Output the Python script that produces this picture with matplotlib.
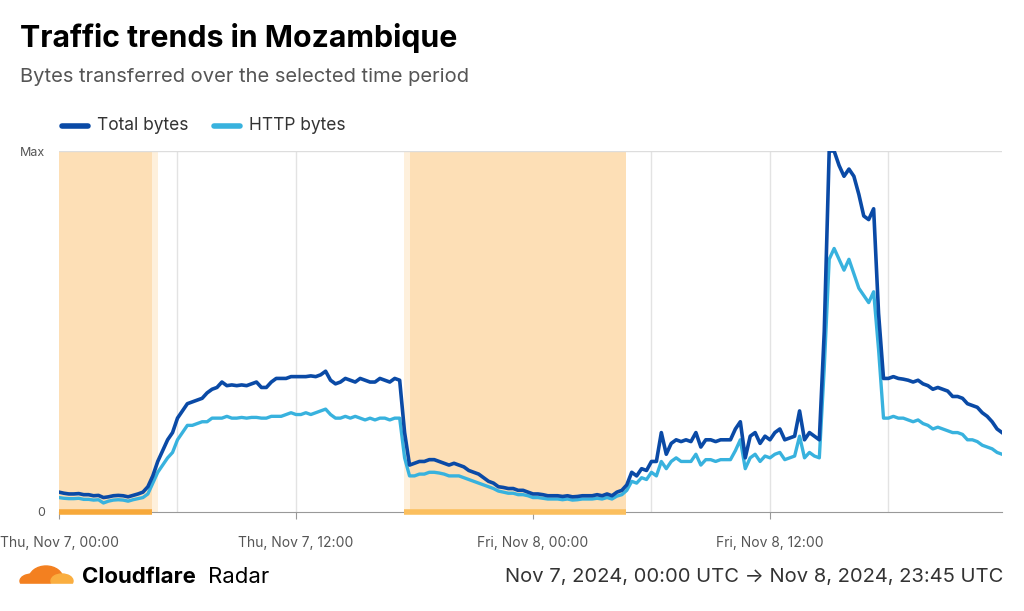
import matplotlib
matplotlib.use("Agg")
import matplotlib.pyplot as plt
import numpy as np
from matplotlib.patches import Ellipse
import datetime as dt
import matplotlib.dates as mdates

total = [.055,.052,.05,.05,.051,.048,.048,.045,.046,.04,.042,.045,.046,.045,.042,.046,.05,.055,.07,.1,
 .14,.17,.2,.22,.26,.28,.3,.305,.31,.315,.33,.34,.345,.36,.35,.352,.35,.352,.35,.355,
 .36,.345,.345,.36,.37,.37,.37,.375,.375,.375,.375,.377,.375,.38,.39,.365,.355,.36,.37,.365,
 .36,.37,.365,.36,.36,.37,.365,.36,.37,.365,.22,.13,.135,.14,.14,.145,.145,.14,.135,.13,
 .135,.13,.125,.115,.11,.105,.095,.085,.08,.07,.068,.065,.065,.06,.06,.055,.05,.05,.048,.045,
 .045,.045,.043,.045,.042,.043,.045,.045,.045,.048,.045,.05,.045,.055,.06,.075,.11,.1,.12,.115,
 .14,.14,.22,.16,.19,.2,.195,.2,.195,.22,.18,.2,.2,.195,.2,.2,.2,.23,.25,.15,
 .21,.22,.19,.21,.2,.22,.23,.2,.205,.21,.28,.2,.22,.21,.2,.5,1.0,1.0,.96,.93,
 .95,.93,.88,.82,.81,.84,.55,.37,.37,.375,.37,.368,.365,.36,.365,.355,.35,.34,.345,.34,
 .335,.32,.32,.315,.3,.295,.29,.275,.265,.25,.23,.22]
http = [.04,.038,.037,.037,.038,.035,.035,.033,.034,.025,.03,.033,.034,.033,.03,.034,.037,.04,.05,.08,
 .11,.13,.15,.165,.2,.22,.24,.24,.245,.25,.25,.26,.26,.26,.265,.26,.26,.262,.26,.262,
 .262,.26,.26,.265,.265,.265,.27,.275,.27,.27,.275,.27,.275,.28,.285,.27,.26,.26,.265,.26,
 .265,.26,.255,.26,.255,.26,.26,.255,.26,.26,.15,.1,.1,.105,.105,.11,.11,.108,.105,.1,
 .1,.1,.095,.09,.085,.08,.075,.07,.065,.058,.055,.052,.052,.048,.048,.045,.04,.04,.038,.036,
 .036,.036,.034,.036,.033,.034,.036,.036,.036,.038,.036,.04,.036,.044,.048,.06,.085,.08,.095,.09,
 .11,.1,.14,.12,.14,.15,.14,.14,.14,.16,.13,.145,.145,.14,.145,.145,.145,.17,.2,.12,
 .15,.16,.14,.155,.15,.16,.165,.145,.15,.155,.21,.15,.165,.155,.15,.4,.7,.73,.7,.67,
 .7,.66,.62,.6,.58,.61,.45,.26,.26,.265,.26,.26,.255,.25,.255,.245,.24,.23,.235,.23,
 .225,.22,.22,.215,.2,.2,.195,.185,.18,.175,.165,.16]

start = dt.datetime(2024, 11, 7)
times = [start + dt.timedelta(minutes=15*i) for i in range(len(total))]
tick_times = [start + dt.timedelta(hours=12*k) for k in range(4)]
tick_labels = ["Thu, Nov 7, 00:00", "Thu, Nov 7, 12:00", "Fri, Nov 8, 00:00", "Fri, Nov 8, 12:00"]
H = lambda h: mdates.date2num(start + dt.timedelta(hours=h))
night = [(H(0), H(4.7), H(5.0)), (H(17.45), H(17.75), H(28.7))]

fig = plt.figure(figsize=(10.24, 6.11), dpi=100)
ax = fig.add_axes([59/1024, 99/611, 943/1024, 361/611])
ax.set_xlim(mdates.date2num(times[0]), mdates.date2num(times[-1])); ax.set_ylim(0, 1)

for k in range(1, 8):
    ax.axvline(H(6*k), color="#e3e3e3", lw=1, zorder=0)
ax.axhline(1, color="#dddddd", lw=1)
shade = "#fddfb6"; light = "#fef0dc"
a, b, c = night[0]
ax.axvspan(a, b, color=shade, lw=0, zorder=0.5)
ax.axvspan(b, c, color=light, lw=0, zorder=0.5)
ax.plot([a, b], [0, 0], color="#f7a93b", lw=4, solid_capstyle="butt", clip_on=False, zorder=5)
a, b, c = night[1]
ax.axvspan(a, b, color=light, lw=0, zorder=0.5)
ax.axvspan(b, c, color=shade, lw=0, zorder=0.5)
ax.plot([a, c], [0, 0], color="#fbbf5e", lw=4, solid_capstyle="butt", clip_on=False, zorder=5)

ax.plot(times, http, color="#38b2de", lw=2.4, zorder=3)
ax.plot(times, total, color="#0a4aa6", lw=2.6, zorder=4)

for s in ["top", "right", "left"]:
    ax.spines[s].set_visible(False)
ax.spines["bottom"].set_color("#999999")
ax.set_yticks([0, 1]); ax.set_yticklabels(["0", "Max"], fontsize=9, color="#555555", family="Inter")
ax.tick_params(axis="y", length=0, pad=10)
ax.set_xticks(tick_times)
ax.set_xticklabels(tick_labels, fontsize=10, color="#555555", family="Inter")
ax.tick_params(axis="x", length=5, color="#999999", pad=12)

fig.text(20/1024, 1-38/611, "Traffic trends in Mozambique", fontsize=21.8, fontweight="bold", family="Inter", va="center")
fig.text(20/1024, 1-77/611, "Bytes transferred over the selected time period", fontsize=14.5, color="#555555", family="Inter", va="center")
fig.add_artist(plt.Line2D([62/1024, 88/1024], [1-126/611]*2, color="#0a4aa6", lw=4, solid_capstyle="round"))
fig.text(97/1024, 1-126/611, "Total bytes", fontsize=12.5, color="#333333", family="Inter", va="center")
fig.add_artist(plt.Line2D([214/1024, 240/1024], [1-126/611]*2, color="#38b2de", lw=4, solid_capstyle="round"))
fig.text(249/1024, 1-126/611, "HTTP bytes", fontsize=12.5, color="#333333", family="Inter", va="center")

# logo
lax = fig.add_axes([18/1024, 20/611, 56/1024, 30/611])
lax.set_xlim(0, 56); lax.set_ylim(0, 30); lax.axis("off")
lax.add_patch(Ellipse((28, 12), 34, 26, color="#f38020"))
lax.add_patch(Ellipse((14, 10), 24, 14, color="#f38020"))
lax.add_patch(Ellipse((44, 10), 22, 14, color="#faae40"))
lax.add_patch(plt.Rectangle((0, 0), 56, 7, color="white"))
fig.text(82/1024, 1-577/611, "Cloudflare", fontsize=16, fontweight="bold", family="Inter", va="center")
fig.text(208/1024, 1-577/611, "Radar", fontsize=16, family="Inter", va="center")
fig.text(1003/1024, 1-577/611, "Nov 7, 2024, 00:00 UTC \u2192 Nov 8, 2024, 23:45 UTC", fontsize=14.5, color="#333333",
         family=["Inter", "DejaVu Sans"], va="center", ha="right")
fig.savefig("out.png", dpi=100)
